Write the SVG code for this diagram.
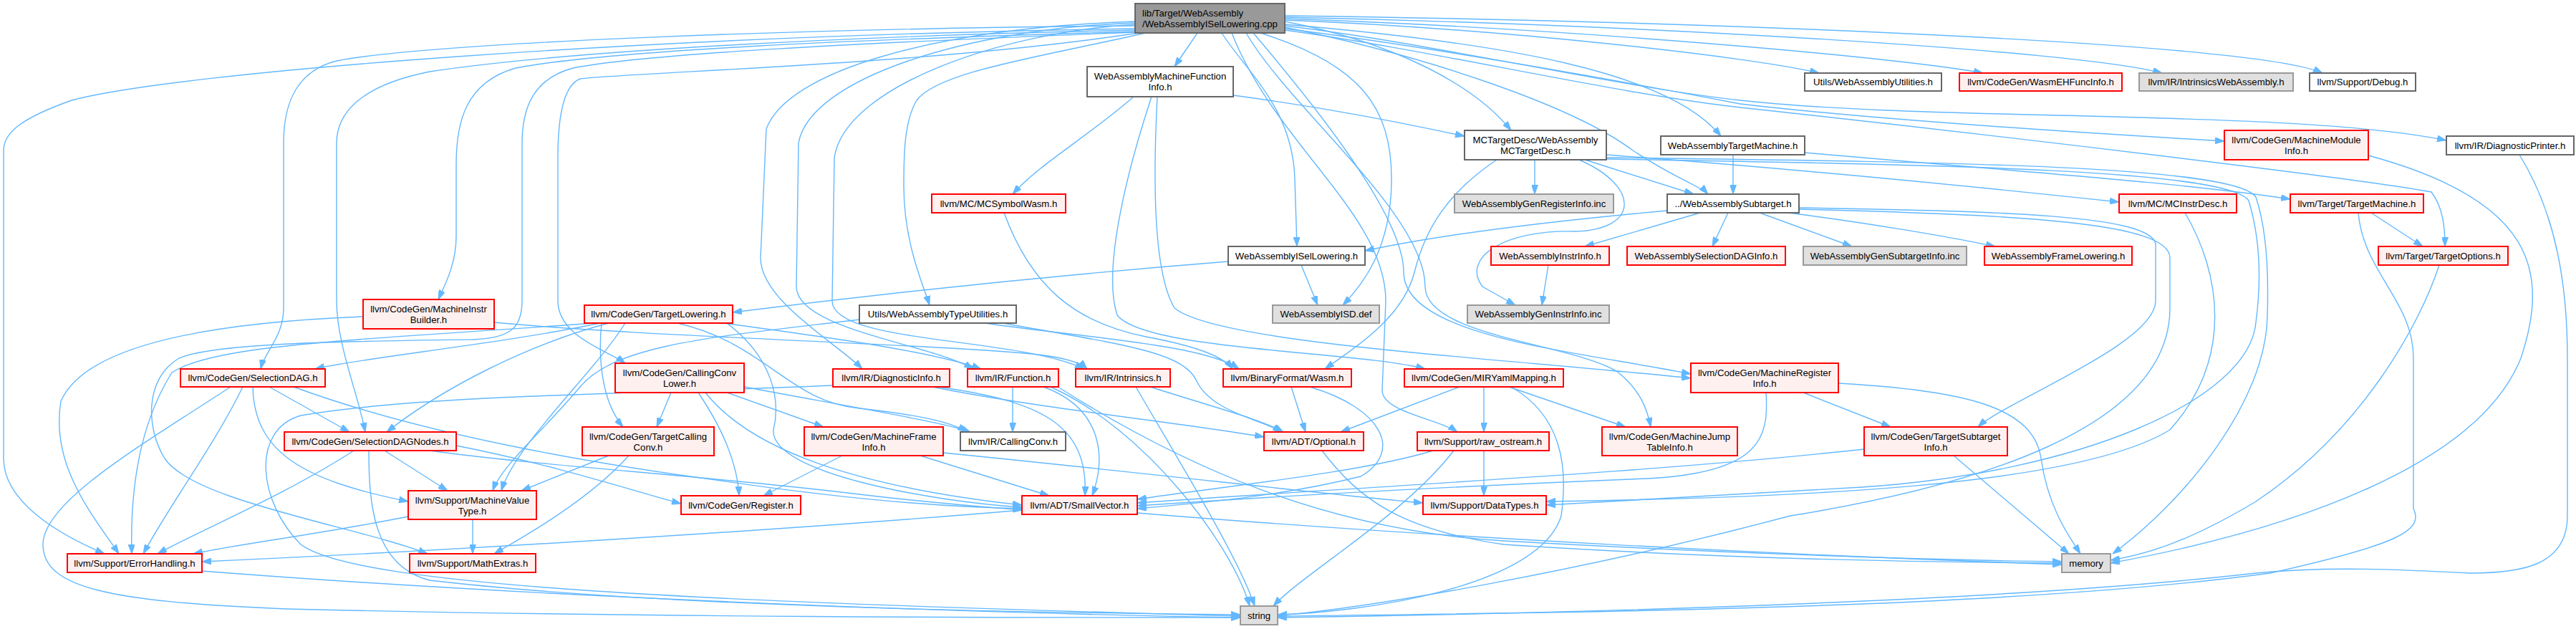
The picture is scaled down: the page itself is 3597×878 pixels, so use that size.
<svg xmlns="http://www.w3.org/2000/svg" width="3597" height="878" viewBox="0 0 3597 878">
<style>
.n rect{stroke-width:2}
.k rect{fill:#999999;stroke:#666666}
.w rect{fill:#ffffff;stroke:#666666}
.r rect{fill:#fff0f0;stroke:#ff0000}
.g rect{fill:#e0e0e0;stroke:#999999}
.n text{font-family:"Liberation Sans",Arial,Helvetica,sans-serif;font-size:13.2px;fill:#000;text-anchor:middle}
.k text{text-anchor:start}
#edges path{fill:none;stroke:#63b8ff;stroke-width:1.4;marker-end:url(#a)}
</style>
<defs>
<marker id="a" markerWidth="13" markerHeight="9" refX="13" refY="4.5" orient="auto" markerUnits="userSpaceOnUse">
<path d="M0,0L13,4.5L0,9z" fill="#63b8ff" stroke="#63b8ff" stroke-width="1"/>
</marker>
</defs>
<rect width="3597" height="878" fill="#ffffff"/>
<g id="edges">
<path d="M1585,40 C900,50 250,100 100,140 C30,165 5,185 5,210 L5,640 C5,700 80,745 146,773"/>
<path d="M1585,36 C1100,40 600,60 470,85 C410,100 396,150 396,200 L396,430 C396,470 370,490 364,515"/>
<path d="M1585,42 C1200,50 800,70 600,100 C500,120 470,160 470,200 L470,420 C470,480 500,550 510,603"/>
<path d="M1585,44 C1200,55 850,70 720,95 C650,115 637,170 637,230 L637,330 C637,370 620,400 612,418"/>
<path d="M1585,45 C1200,60 900,75 800,95 C745,110 729,150 729,200 L729,420 C729,460 710,472 660,474 C500,476 300,478 250,500 C200,530 205,600 230,640 C270,700 500,735 597,773"/>
<path d="M1590,46 C1300,90 900,100 810,110 C785,120 779,170 779,220 L779,420 C779,470 850,490 873,507"/>
<path d="M1585,30 C1300,40 1100,100 1070,180 L1062,360 C1062,420 1170,480 1204,515"/>
<path d="M1585,32 C1350,40 1130,110 1115,200 L1112,400 C1112,460 1300,480 1359,515"/>
<path d="M1585,34 C1400,45 1180,120 1165,220 L1162,420 C1162,480 1420,470 1514,515"/>
<path d="M1600,46 C1450,80 1310,100 1280,140 C1262,170 1262,220 1262,260 C1262,340 1290,400 1298,426"/>
<path d="M1672,46 L1640,93"/>
<path d="M1706,46 C1740,100 1805,150 1808,250 L1811,344"/>
<path d="M1760,46 C1900,90 1943,150 1943,250 C1943,350 1900,400 1875,426"/>
<path d="M1794,30 C1950,60 2060,120 2110,182"/>
<path d="M1794,38 C2000,80 2200,150 2280,210 C2340,250 2375,260 2385,271"/>
<path d="M1794,34 C2100,60 2330,100 2403,190"/>
<path d="M1794,28 C2100,40 2450,80 2540,102"/>
<path d="M1794,26 C2200,40 2650,80 2769,102"/>
<path d="M1794,24 C2300,35 2900,70 3019,102"/>
<path d="M1794,22 C2400,30 3150,60 3243,102"/>
<path d="M1794,40 C2000,65 2300,120 2430,145 C2600,165 2900,185 3106,197"/>
<path d="M1794,36 C2000,60 2250,120 2430,140 C2700,170 3200,152 3416,196"/>
<path d="M1794,42 C2000,70 2250,130 2430,150 C2800,190 3300,250 3395,268 C3412,290 3414,320 3414,344"/>
<path d="M1750,46 C1830,140 1960,300 1960,380 C1960,470 2200,490 2361,522"/>
<path d="M1740,46 C1800,150 1990,300 1990,400 C1990,470 2200,480 2260,520 C2290,545 2300,570 2305,596"/>
<path d="M1720,46 C1780,200 1935,300 1935,420 L1930,545 C1930,575 2010,585 2035,603"/>
<path d="M1583,135 C1520,190 1450,230 1414,271"/>
<path d="M1722,133 C1850,150 1950,170 2045,190"/>
<path d="M1608,135 C1570,250 1540,380 1560,440 C1600,490 1900,490 1990,515"/>
<path d="M1616,135 C1610,250 1610,380 1640,430 C1700,480 2100,500 2361,528"/>
<path d="M1402,297 C1440,400 1500,450 1600,470 C1680,485 1710,500 1721,515"/>
<path d="M1376,451 C1500,470 1680,480 1730,515"/>
<path d="M1400,451 C1560,480 1650,490 1670,530 C1690,575 1760,585 1790,603"/>
<path d="M1200,446 C1000,470 860,480 810,540 C760,600 700,650 688,685"/>
<path d="M1715,365 C1400,390 1150,420 1023,436"/>
<path d="M1817,370 L1840,426"/>
<path d="M2328,294 C2150,310 2000,330 1906,350"/>
<path d="M2374,297 L2213,344"/>
<path d="M2413,297 L2391,344"/>
<path d="M2457,297 L2586,344"/>
<path d="M2497,297 C2600,310 2720,330 2786,344"/>
<path d="M2512,290 C2800,295 3000,300 3010,340 L3010,420 C3010,480 2800,560 2762,596"/>
<path d="M2512,292 C2820,300 3030,310 3030,360 L3030,430 C3030,600 2750,680 2500,720 C2200,800 1900,850 1784,859"/>
<path d="M2420,216 L2420,271"/>
<path d="M2520,213 C2800,238 3050,255 3198,278"/>
<path d="M2143,223 L2143,271"/>
<path d="M2090,223 C2020,270 1990,320 1975,380 C1960,440 1900,480 1850,515"/>
<path d="M2205,223 C2290,260 2290,320 2200,323 C2100,320 2040,360 2070,400 L2116,426"/>
<path d="M2213,223 L2365,271"/>
<path d="M2243,216 C2500,235 2800,265 2959,282"/>
<path d="M2243,222 C2700,230 3110,236 3140,280 C3155,330 3158,390 3150,450 C3140,560 2900,660 2600,680 C2400,692 2250,700 2159,705"/>
<path d="M2243,220 C2700,226 3120,230 3150,275 C3165,320 3168,380 3166,440 C3165,560 3050,700 2950,773"/>
<path d="M2162,370 L2153,426"/>
<path d="M3311,297 L3383,344"/>
<path d="M3293,297 C3300,380 3370,420 3370,500 L3370,710 C3385,740 3350,760 3170,800 C2800,850 2200,855 1784,860"/>
<path d="M3406,370 C3380,450 3300,600 3150,700 C3050,760 2990,775 2947,782"/>
<path d="M3307,217 C3540,280 3560,380 3520,500 C3460,650 3200,740 2947,786"/>
<path d="M3518,216 C3570,300 3585,400 3585,500 L3585,720 C3585,790 3520,800 3450,800 C3350,795 3250,790 3150,800 C2800,840 2200,856 1784,862"/>
<path d="M3051,297 C3100,380 3120,500 3030,600 C2900,680 2500,695 2159,700"/>
<path d="M2728,636 L2889,773"/>
<path d="M2603,627 C2300,660 1900,680 1588,702"/>
<path d="M2518,548 L2640,596"/>
<path d="M2466,548 C2470,610 2460,660 2300,668 C2000,680 1750,695 1588,706"/>
<path d="M2567,535 C2750,545 2840,570 2850,640 C2860,710 2890,750 2905,773"/>
<path d="M2038,540 L1872,603"/>
<path d="M2072,540 L2072,603"/>
<path d="M2107,540 L2270,596"/>
<path d="M2110,540 C2180,580 2190,650 2180,720 C2150,820 1900,855 1784,858"/>
<path d="M2072,629 L2072,692"/>
<path d="M2001,629 C1900,660 1700,680 1588,697"/>
<path d="M2030,629 C1960,720 1820,800 1778,846"/>
<path d="M1803,540 L1823,603"/>
<path d="M1829,540 C1930,570 1960,630 1900,665 C1800,690 1700,700 1588,710"/>
<path d="M1846,629 C1900,700 1960,740 2100,760 C2400,780 2700,785 2879,786"/>
<path d="M1606,540 C1700,570 1760,585 1792,603"/>
<path d="M1586,540 C1650,650 1730,780 1752,846"/>
<path d="M1414,540 L1414,603"/>
<path d="M1457,540 C1540,570 1545,640 1525,692"/>
<path d="M1467,540 C1600,600 1720,760 1745,846"/>
<path d="M1474,538 C1650,650 1850,740 2100,755 C2400,772 2700,782 2879,784"/>
<path d="M1302,540 C1450,570 1650,590 1765,610"/>
<path d="M1310,540 C1450,560 1520,590 1515,692"/>
<path d="M1163,538 C900,550 600,550 420,580 C350,600 360,700 420,760 C500,820 1000,840 1732,860"/>
<path d="M1176,636 L1066,692"/>
<path d="M1285,636 L1465,692"/>
<path d="M1317,632 C1600,660 1850,690 1987,702"/>
<path d="M937,548 L917,596"/>
<path d="M1015,548 L1150,596"/>
<path d="M975,548 C1010,600 1030,650 1032,692"/>
<path d="M985,548 C1050,630 1200,680 1427,705"/>
<path d="M1039,540 C1200,570 1320,590 1355,603"/>
<path d="M850,636 L728,685"/>
<path d="M878,636 C820,700 730,750 690,773"/>
<path d="M838,451 C700,480 500,500 440,515"/>
<path d="M850,451 C740,480 620,540 540,603"/>
<path d="M830,451 C500,475 300,480 240,520 C190,600 182,700 184,773"/>
<path d="M873,451 C830,520 720,620 700,685"/>
<path d="M840,451 C835,500 840,560 870,596"/>
<path d="M946,451 C1070,480 1100,560 1200,570 C1290,580 1330,590 1350,603"/>
<path d="M1010,451 C1150,470 1300,490 1370,515"/>
<path d="M1015,451 C1080,500 1090,560 1080,600 C1075,660 1300,700 1427,708"/>
<path d="M376,540 L488,603"/>
<path d="M339,540 C300,620 240,700 200,773"/>
<path d="M353,540 C355,630 420,670 570,700"/>
<path d="M410,540 C600,610 850,650 1000,670 C1200,700 1330,708 1427,710"/>
<path d="M322,540 C200,620 60,700 60,760 C60,820 150,840 400,850 C900,862 1400,862 1732,862"/>
<path d="M494,629 C400,690 280,740 220,773"/>
<path d="M537,629 L625,685"/>
<path d="M515,629 C515,700 520,790 600,810 C900,845 1400,855 1732,858"/>
<path d="M600,629 C750,650 1000,665 1200,690 C1300,702 1380,708 1427,712"/>
<path d="M637,622 C780,650 900,690 951,703"/>
<path d="M570,721 C450,745 330,760 270,773"/>
<path d="M660,725 L660,773"/>
<path d="M1427,712 C1100,740 600,770 282,784"/>
<path d="M1588,716 C2000,750 2500,775 2879,788"/>
<path d="M282,797 C700,830 1300,855 1732,862"/>
<path d="M507,442 C300,450 120,480 85,560 C70,650 130,720 166,773"/>
<path d="M690,450 C900,470 1300,480 1450,495 C1490,500 1510,507 1518,515"/>
</g>
<g id="node-root" class="n k"><rect x="1585" y="5" width="209" height="41"/><text x="1595" y="23">lib/Target/WebAssembly</text><text x="1595" y="38">/WebAssemblyISelLowering.cpp</text></g>
<g id="node-mfi" class="n w"><rect x="1518" y="93" width="204" height="42"/><text x="1620" y="111">WebAssemblyMachineFunction</text><text x="1620" y="126">Info.h</text></g>
<g id="node-util" class="n w"><rect x="2520" y="102" width="191" height="25"/><text x="2615.5" y="119">Utils/WebAssemblyUtilities.h</text></g>
<g id="node-wasmeh" class="n r"><rect x="2736" y="102" width="227" height="25"/><text x="2849.5" y="119">llvm/CodeGen/WasmEHFuncInfo.h</text></g>
<g id="node-intrwa" class="n g"><rect x="2987" y="102" width="215" height="25"/><text x="3094.5" y="119">llvm/IR/IntrinsicsWebAssembly.h</text></g>
<g id="node-debug" class="n w"><rect x="3225" y="102" width="148" height="25"/><text x="3299" y="119">llvm/Support/Debug.h</text></g>
<g id="node-mctd" class="n w"><rect x="2045" y="182" width="198" height="41"/><text x="2144" y="200">MCTargetDesc/WebAssembly</text><text x="2144" y="215">MCTargetDesc.h</text></g>
<g id="node-wtm" class="n w"><rect x="2319" y="190" width="201" height="26"/><text x="2419.5" y="207.5">WebAssemblyTargetMachine.h</text></g>
<g id="node-mmi" class="n r"><rect x="3106" y="182" width="201" height="41"/><text x="3206.5" y="200">llvm/CodeGen/MachineModule</text><text x="3206.5" y="215">Info.h</text></g>
<g id="node-dprint" class="n w"><rect x="3416" y="190" width="178" height="26"/><text x="3505" y="207.5">llvm/IR/DiagnosticPrinter.h</text></g>
<g id="node-mcsym" class="n r"><rect x="1301" y="271" width="187" height="26"/><text x="1394.5" y="288.5">llvm/MC/MCSymbolWasm.h</text></g>
<g id="node-genreg" class="n g"><rect x="2031" y="271" width="222" height="26"/><text x="2142" y="288.5">WebAssemblyGenRegisterInfo.inc</text></g>
<g id="node-st" class="n w"><rect x="2328" y="271" width="184" height="26"/><text x="2420" y="288.5">../WebAssemblySubtarget.h</text></g>
<g id="node-mcid" class="n r"><rect x="2959" y="271" width="164" height="26"/><text x="3041" y="288.5">llvm/MC/MCInstrDesc.h</text></g>
<g id="node-tm" class="n r"><rect x="3198" y="271" width="186" height="26"/><text x="3291" y="288.5">llvm/Target/TargetMachine.h</text></g>
<g id="node-isl" class="n w"><rect x="1715" y="344" width="191" height="26"/><text x="1810.5" y="361.5">WebAssemblyISelLowering.h</text></g>
<g id="node-instr" class="n r"><rect x="2082" y="344" width="165" height="26"/><text x="2164.5" y="361.5">WebAssemblyInstrInfo.h</text></g>
<g id="node-sdinfo" class="n r"><rect x="2272" y="344" width="221" height="26"/><text x="2382.5" y="361.5">WebAssemblySelectionDAGInfo.h</text></g>
<g id="node-gensub" class="n g"><rect x="2518" y="344" width="228" height="26"/><text x="2632" y="361.5">WebAssemblyGenSubtargetInfo.inc</text></g>
<g id="node-frame" class="n r"><rect x="2771" y="344" width="206" height="26"/><text x="2874" y="361.5">WebAssemblyFrameLowering.h</text></g>
<g id="node-topt" class="n r"><rect x="3321" y="344" width="181" height="26"/><text x="3411.5" y="361.5">llvm/Target/TargetOptions.h</text></g>
<g id="node-mib" class="n r"><rect x="507" y="418" width="183" height="41"/><text x="598.5" y="436">llvm/CodeGen/MachineInstr</text><text x="598.5" y="451">Builder.h</text></g>
<g id="node-tl" class="n r"><rect x="816" y="426" width="207" height="25"/><text x="919.5" y="443">llvm/CodeGen/TargetLowering.h</text></g>
<g id="node-tu" class="n w"><rect x="1200" y="426" width="219" height="25"/><text x="1309.5" y="443">Utils/WebAssemblyTypeUtilities.h</text></g>
<g id="node-isd" class="n g"><rect x="1777" y="426" width="149" height="25"/><text x="1851.5" y="443">WebAssemblyISD.def</text></g>
<g id="node-geninstr" class="n g"><rect x="2049" y="426" width="198" height="25"/><text x="2148" y="443">WebAssemblyGenInstrInfo.inc</text></g>
<g id="node-sd" class="n r"><rect x="252" y="515" width="202" height="25"/><text x="353" y="532">llvm/CodeGen/SelectionDAG.h</text></g>
<g id="node-ccl" class="n r"><rect x="859" y="507" width="180" height="41"/><text x="949" y="525">llvm/CodeGen/CallingConv</text><text x="949" y="540">Lower.h</text></g>
<g id="node-dinfo" class="n r"><rect x="1163" y="515" width="163" height="25"/><text x="1244.5" y="532">llvm/IR/DiagnosticInfo.h</text></g>
<g id="node-fn" class="n r"><rect x="1351" y="515" width="127" height="25"/><text x="1414.5" y="532">llvm/IR/Function.h</text></g>
<g id="node-intr" class="n r"><rect x="1502" y="515" width="132" height="25"/><text x="1568" y="532">llvm/IR/Intrinsics.h</text></g>
<g id="node-wasm" class="n r"><rect x="1708" y="515" width="179" height="25"/><text x="1797.5" y="532">llvm/BinaryFormat/Wasm.h</text></g>
<g id="node-miry" class="n r"><rect x="1961" y="515" width="222" height="25"/><text x="2072" y="532">llvm/CodeGen/MIRYamlMapping.h</text></g>
<g id="node-mri" class="n r"><rect x="2361" y="507" width="206" height="41"/><text x="2464" y="525">llvm/CodeGen/MachineRegister</text><text x="2464" y="540">Info.h</text></g>
<g id="node-sdn" class="n r"><rect x="397" y="603" width="240" height="26"/><text x="517" y="620.5">llvm/CodeGen/SelectionDAGNodes.h</text></g>
<g id="node-tcc" class="n r"><rect x="813" y="596" width="184" height="40"/><text x="905" y="614">llvm/CodeGen/TargetCalling</text><text x="905" y="629">Conv.h</text></g>
<g id="node-mfri" class="n r"><rect x="1123" y="596" width="194" height="40"/><text x="1220" y="614">llvm/CodeGen/MachineFrame</text><text x="1220" y="629">Info.h</text></g>
<g id="node-cc" class="n w"><rect x="1341" y="603" width="147" height="26"/><text x="1414.5" y="620.5">llvm/IR/CallingConv.h</text></g>
<g id="node-opt" class="n r"><rect x="1765" y="603" width="139" height="26"/><text x="1834.5" y="620.5">llvm/ADT/Optional.h</text></g>
<g id="node-ro" class="n r"><rect x="1979" y="603" width="184" height="26"/><text x="2071" y="620.5">llvm/Support/raw_ostream.h</text></g>
<g id="node-mjti" class="n r"><rect x="2237" y="596" width="189" height="40"/><text x="2331.5" y="614">llvm/CodeGen/MachineJump</text><text x="2331.5" y="629">TableInfo.h</text></g>
<g id="node-tsi" class="n r"><rect x="2603" y="596" width="200" height="40"/><text x="2703" y="614">llvm/CodeGen/TargetSubtarget</text><text x="2703" y="629">Info.h</text></g>
<g id="node-mvt" class="n r"><rect x="570" y="685" width="179" height="40"/><text x="659.5" y="703">llvm/Support/MachineValue</text><text x="659.5" y="718">Type.h</text></g>
<g id="node-reg" class="n r"><rect x="951" y="692" width="167" height="26"/><text x="1034.5" y="709.5">llvm/CodeGen/Register.h</text></g>
<g id="node-sv" class="n r"><rect x="1427" y="692" width="161" height="26"/><text x="1507.5" y="709.5">llvm/ADT/SmallVector.h</text></g>
<g id="node-dt" class="n r"><rect x="1987" y="692" width="172" height="26"/><text x="2073" y="709.5">llvm/Support/DataTypes.h</text></g>
<g id="node-eh" class="n r"><rect x="94" y="773" width="188" height="26"/><text x="188" y="790.5">llvm/Support/ErrorHandling.h</text></g>
<g id="node-math" class="n r"><rect x="572" y="773" width="176" height="26"/><text x="660" y="790.5">llvm/Support/MathExtras.h</text></g>
<g id="node-mem" class="n g"><rect x="2879" y="773" width="68" height="26"/><text x="2913" y="790.5">memory</text></g>
<g id="node-str" class="n g"><rect x="1732" y="846" width="52" height="26"/><text x="1758" y="863.5">string</text></g>
</svg>
